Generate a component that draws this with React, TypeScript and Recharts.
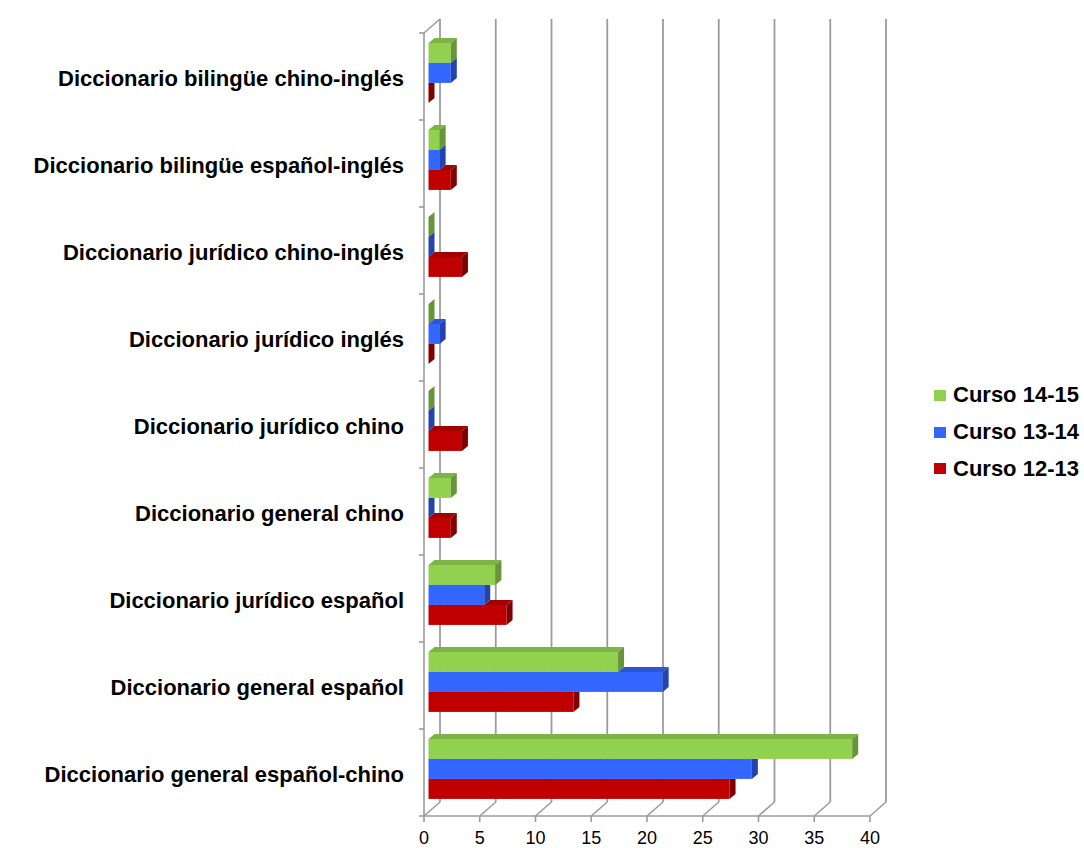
import React from 'react';
import { BarChart, Bar, XAxis, YAxis, CartesianGrid, Legend } from 'recharts';

// Categories, listed top to bottom
const categories = [
  'Diccionario bilingüe chino-inglés',
  'Diccionario bilingüe español-inglés',
  'Diccionario jurídico chino-inglés',
  'Diccionario jurídico inglés',
  'Diccionario jurídico chino',
  'Diccionario general chino',
  'Diccionario jurídico español',
  'Diccionario general español',
  'Diccionario general español-chino',
];

const curso1415 = [2, 1, 0, 0, 0, 2, 6, 17, 38];
const curso1314 = [2, 1, 0, 1, 0, 0, 5, 21, 29];
const curso1213 = [0, 2, 3, 0, 3, 2, 7, 13, 27];

const xTicks = [0, 5, 10, 15, 20, 25, 30, 35, 40];
const X_MAX = 40;

const seriesNames = ['Curso 14-15', 'Curso 13-14', 'Curso 12-13'];

const data = categories.map((name, i) => ({
  name,
  c1415: curso1415[i],
  c1314: curso1314[i],
  c1213: curso1213[i],
}));

// 3D look: wall depth, bar placement inside the box, and the depth of each bar
const WALL_DX = 16;
const WALL_DY = -14;
const BAR_DX = 4.5;
const BAR_DY = -4;
const D1 = 6;
const D2 = -5;

const FONT = '"Liberation Sans", Arial, Helvetica, sans-serif';
const GRID = '#9c9c9c';

const series = [
  { key: 'c1415', name: seriesNames[0], face: '#92D050', top: '#7DB443', side: '#66953A', above: null },
  { key: 'c1314', name: seriesNames[1], face: '#3366FF', top: '#2C55D6', side: '#2344AE', above: 'c1415' },
  { key: 'c1213', name: seriesNames[2], face: '#C00000', top: '#A30000', side: '#7E0000', above: 'c1314' },
];

function make3DBar(face: string, top: string, side: string, aboveKey: string | null) {
  return (props: any) => {
    const { x, y, width, height, payload, background } = props;
    if (x == null || y == null) return <g />;
    const X = x + BAR_DX;
    const Y = y + BAR_DY;
    const W = Math.max(0, width || 0);
    const H = height || 0;
    // length of the bar sitting right above this one (it hides part of our top)
    let Wu = 0;
    if (aboveKey && payload) {
      const ppu = background && background.width ? background.width / X_MAX : 0;
      Wu = (payload[aboveKey] || 0) * ppu;
    }
    const tStart = X + Math.min(Wu, W);
    const c = Math.max(0, Math.min(D1, Wu - W));
    const topPts = `${tStart},${Y} ${tStart + D1},${Y + D2} ${X + W + D1},${Y + D2} ${X + W},${Y}`;
    const sidePts = [
      [X + W, Y],
      [X + W + c, Y],
      [X + W + c, Y + (c * D2) / D1],
      [X + W + D1, Y + D2],
      [X + W + D1, Y + H + D2],
      [X + W, Y + H],
    ]
      .map((p) => p.join(','))
      .join(' ');
    return (
      <g>
        {W > 0 && <rect x={X} y={Y} width={W} height={H} fill={face} />}
        {W > 0 && <polygon points={topPts} fill={top} />}
        <polygon points={sidePts} fill={side} />
      </g>
    );
  };
}

// Back wall gridlines with the floor diagonals joining them to the front ticks
const GridLine = (props: any) => {
  const { x1, y1, y2, index } = props;
  const bx = x1 + WALL_DX;
  const by = y2 + WALL_DY;
  const ty = y1 + WALL_DY;
  return (
    <g key={`g-${index}`}>
      <line x1={x1} y1={y2} x2={bx} y2={by} stroke={GRID} strokeWidth={1.6} />
      <line x1={bx} y1={by} x2={bx} y2={ty} stroke={GRID} strokeWidth={1.8} />
      {index === 0 && <line x1={x1} y1={y1} x2={bx} y2={ty} stroke={GRID} strokeWidth={1.6} />}
    </g>
  );
};

const CategoryTick = (props: any) => {
  const { x, y, payload, index, visibleTicksCount } = props;
  const half = payload && payload.offset ? payload.offset : 0;
  const axisX = x + 20;
  return (
    <g>
      <line x1={axisX - 5} y1={y - half} x2={axisX} y2={y - half} stroke={GRID} strokeWidth={1.6} />
      {index === visibleTicksCount - 1 && (
        <line x1={axisX - 5} y1={y + half} x2={axisX} y2={y + half} stroke={GRID} strokeWidth={1.6} />
      )}
      <text
        x={x}
        y={y}
        dy="0.42em"
        textAnchor="end"
        fontFamily={FONT}
        fontWeight="bold"
        fontSize={22}
        fill="#000"
      >
        {payload.value}
      </text>
    </g>
  );
};

const ValueTick = (props: any) => {
  const { x, y, payload } = props;
  return (
    <text x={x} y={y} dy="0.71em" textAnchor="middle" fontFamily={FONT} fontSize={18} fill="#000">
      {payload.value}
    </text>
  );
};

const LegendBox = () => (
  <div style={{ fontFamily: FONT }}>
    {series.map((s) => (
      <div key={s.key} style={{ display: 'flex', alignItems: 'center', height: 36.7 }}>
        <span style={{ display: 'inline-block', width: 12, height: 11, background: s.face, marginRight: 7 }} />
        <span style={{ fontSize: 22, fontWeight: 'bold', color: '#000', whiteSpace: 'nowrap' }}>{s.name}</span>
      </div>
    ))}
  </div>
);

export default function App() {
  return (
    <div style={{ position: 'absolute', left: 0, top: 0, width: 1084, height: 848, background: '#fff' }}>
      <BarChart
        width={1084}
        height={848}
        data={data}
        layout="vertical"
        margin={{ top: 33, right: 214, bottom: 0, left: 0 }}
        barCategoryGap="16%"
        barGap={0}
        style={{ fontFamily: FONT }}
      >
        <CartesianGrid horizontal={false} vertical={GridLine as any} stroke={GRID} />
        <XAxis
          type="number"
          domain={[0, X_MAX]}
          ticks={xTicks}
          interval={0}
          height={32}
          tickSize={6}
          tickMargin={9}
          axisLine={{ stroke: GRID, strokeWidth: 1.6 }}
          tickLine={{ stroke: GRID, strokeWidth: 1.6 }}
          tick={<ValueTick />}
        />
        <YAxis
          type="category"
          dataKey="name"
          width={424}
          tickSize={5}
          tickMargin={15}
          interval={0}
          tickLine={false}
          axisLine={{ stroke: GRID, strokeWidth: 1.6 }}
          tick={<CategoryTick />}
        />
        <Legend
          layout="vertical"
          align="center"
          verticalAlign="middle"
          content={<LegendBox />}
          wrapperStyle={{ position: 'absolute', left: 934, top: 377, width: 150 }}
        />
        {series.map((s) => (
          <Bar
            key={s.key}
            dataKey={s.key}
            name={s.name}
            fill={s.face}
            isAnimationActive={false}
            shape={make3DBar(s.face, s.top, s.side, s.above)}
          />
        ))}
      </BarChart>
    </div>
  );
}
